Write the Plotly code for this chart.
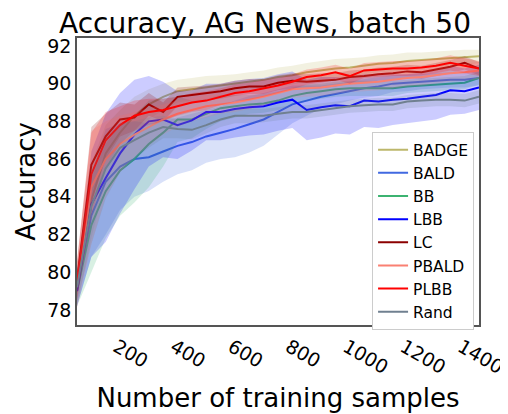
import plotly.graph_objects as go

samples = list(range(0, 1450, 50))

badge = [79.0, 83.8, 86.3, 87.4, 88.3, 88.9, 89.3, 89.6, 89.7, 89.8, 89.9, 90.0, 90.1, 90.2, 90.35,
         90.45, 90.6, 90.7, 90.8, 90.85, 90.95, 91.05, 91.1, 91.2, 91.25, 91.3, 91.35, 91.4, 91.45]
bald = [79.0, 83.0, 84.8, 85.6, 86.0, 86.1, 86.4, 86.7, 86.9, 87.2, 87.4, 87.6, 87.85, 88.1, 88.5,
        88.9, 89.1, 89.3, 89.45, 89.6, 89.75, 89.85, 90.0, 90.05, 90.1, 90.15, 90.2, 90.2, 90.3]
bb = [79.0, 82.5, 84.3, 85.4, 86.0, 86.8, 87.4, 88.1, 88.1, 88.4, 88.7, 88.8, 88.9, 88.95, 89.1,
      89.35, 89.5, 89.6, 89.7, 89.75, 89.75, 89.75, 89.75, 89.85, 89.9, 89.95, 90.0, 90.05, 90.3]
lbb = [79.0, 83.6, 85.0, 86.3, 87.3, 88.0, 88.1, 87.8, 88.05, 88.5, 88.5, 88.65, 88.75, 88.8, 89.0,
       89.15, 88.6, 88.75, 88.85, 88.8, 89.1, 89.05, 89.15, 89.2, 89.3, 89.4, 89.65, 89.6, 89.8]
lc = [79.6, 85.7, 87.2, 88.1, 88.2, 88.9, 88.5, 89.3, 89.4, 89.5, 89.6, 89.75, 89.85, 89.85, 90.05,
      90.15, 90.1, 90.15, 90.2, 90.35, 90.4, 90.5, 90.55, 90.65, 90.6, 90.75, 90.9, 91.1, 90.8]
pbald = [79.3, 84.5, 86.0, 86.8, 87.3, 87.7, 88.1, 88.4, 88.6, 88.8, 88.9, 89.0, 89.15, 89.3, 89.5,
         89.7, 89.75, 89.8, 89.9, 90.0, 90.05, 90.1, 90.2, 90.3, 90.35, 90.45, 90.55, 90.6, 90.7]
plbb = [79.5, 85.2, 87.0, 87.8, 88.3, 88.5, 88.6, 88.8, 89.0, 89.1, 89.3, 89.5, 89.6, 89.75, 89.9,
        90.1, 90.35, 90.45, 90.6, 90.4, 90.7, 90.75, 90.8, 90.8, 90.85, 90.95, 91.1, 90.95, 90.8]
rand = [79.2, 83.5, 85.5, 86.6, 87.0, 87.4, 87.7, 87.6, 87.55, 87.8, 88.1, 88.3, 88.3, 88.3, 88.4,
        88.5, 88.5, 88.6, 88.7, 88.8, 88.85, 88.9, 88.9, 89.05, 89.1, 89.15, 89.15, 89.1, 89.3]

badge_sd = [0.8, 2.0, 1.5, 1.2, 1.0, 0.8, 0.7, 0.6, 0.6, 0.6, 0.55, 0.5, 0.5, 0.5, 0.5,
            0.5, 0.5, 0.5, 0.5, 0.5, 0.45, 0.45, 0.45, 0.45, 0.4, 0.4, 0.4, 0.4, 0.35]
bald_sd = [0.8, 2.2, 2.8, 2.3, 2.0, 1.8, 1.6, 1.5, 1.5, 1.4, 1.4, 1.5, 1.5, 1.4, 1.2,
           1.0, 0.8, 0.6, 0.55, 0.5, 0.5, 0.5, 0.45, 0.45, 0.4, 0.4, 0.4, 0.4, 0.4]
bb_sd = [0.8, 2.5, 2.5, 2.4, 2.3, 2.3, 1.8, 1.2, 1.0, 0.8, 0.7, 0.6, 0.5, 0.5, 0.5,
         0.45, 0.45, 0.4, 0.4, 0.4, 0.4, 0.4, 0.4, 0.35, 0.35, 0.35, 0.35, 0.35, 0.35]
lbb_sd = [0.8, 2.8, 3.4, 3.2, 2.9, 2.4, 2.0, 1.8, 1.6, 1.5, 1.5, 1.5, 1.5, 1.5, 1.5,
          1.5, 1.6, 1.6, 1.5, 1.5, 1.4, 1.4, 1.35, 1.3, 1.3, 1.3, 1.3, 1.2, 1.2]
lc_sd = [1.0, 2.0, 1.2, 0.9, 0.7, 0.6, 0.5, 0.5, 0.45, 0.4, 0.4, 0.4, 0.4, 0.4, 0.4,
         0.4, 0.4, 0.4, 0.35, 0.35, 0.35, 0.35, 0.35, 0.35, 0.35, 0.35, 0.35, 0.35, 0.35]
pbald_sd = [1.2, 3.0, 2.0, 1.5, 1.2, 1.0, 0.8, 0.7, 0.6, 0.6, 0.5, 0.5, 0.5, 0.5, 0.45,
            0.45, 0.45, 0.45, 0.45, 0.45, 0.45, 0.45, 0.45, 0.45, 0.45, 0.45, 0.45, 0.45, 0.45]
plbb_sd = [1.0, 2.2, 1.5, 1.0, 0.8, 0.7, 0.6, 0.5, 0.5, 0.5, 0.45, 0.45, 0.45, 0.45, 0.4,
           0.4, 0.4, 0.4, 0.4, 0.4, 0.4, 0.4, 0.4, 0.4, 0.4, 0.4, 0.4, 0.4, 0.4]
rand_sd = [0.8, 2.0, 1.6, 1.3, 1.0, 0.8, 0.6, 0.5, 0.5, 0.45, 0.4, 0.4, 0.4, 0.35, 0.35,
           0.35, 0.35, 0.35, 0.35, 0.35, 0.35, 0.35, 0.35, 0.35, 0.35, 0.35, 0.35, 0.35, 0.35]

names = ["BADGE", "BALD", "BB", "LBB", "LC", "PBALD", "PLBB", "Rand"]
means = [badge, bald, bb, lbb, lc, pbald, plbb, rand]
sds = [badge_sd, bald_sd, bb_sd, lbb_sd, lc_sd, pbald_sd, plbb_sd, rand_sd]
colors = [(189, 183, 107), (65, 105, 225), (60, 179, 113), (0, 0, 255),
          (139, 0, 0), (250, 128, 114), (255, 0, 0), (112, 128, 144)]

fig = go.Figure()
for name, m, s, c in zip(names, means, sds, colors):
    up = [a + b for a, b in zip(m, s)]
    lo = [a - b for a, b in zip(m, s)]
    fig.add_trace(go.Scatter(
        x=samples + samples[::-1], y=up + lo[::-1], fill="toself",
        fillcolor=f"rgba({c[0]},{c[1]},{c[2]},0.2)", line=dict(width=0),
        mode="lines", hoverinfo="skip", showlegend=False))
    fig.add_trace(go.Scatter(
        x=samples, y=m, mode="lines", name=name,
        line=dict(color=f"rgb({c[0]},{c[1]},{c[2]})", width=2)))

font = "DejaVu Sans, sans-serif"
# the page body has an 8px margin, so the figure is drawn 8px in from the window corner
fig.update_layout(
    width=500, height=406,
    margin=dict(l=69, r=29, t=30, b=89, autoexpand=False),
    paper_bgcolor="white", plot_bgcolor="white",
    font=dict(family=font, color="black"),
    title=dict(text="Accuracy, AG News, batch 50", font=dict(size=28, family=font),
               x=0.514, xanchor="center", xref="container",
               y=1 - 15 / 406, yanchor="middle", yref="container"),
    xaxis=dict(range=[0, 1400], tickvals=[200, 400, 600, 800, 1000, 1200, 1400],
               tickangle=30, tickfont=dict(size=19), ticklabelshift=-18, ticklabelstandoff=2,
               showgrid=False, zeroline=False, showline=True, linecolor="#555555",
               linewidth=1.5, mirror=True, ticks="", automargin=False,
               title=dict(text="Number of training samples", font=dict(size=26), standoff=12)),
    yaxis=dict(range=[77.2, 92.42], tickvals=[78, 80, 82, 84, 86, 88, 90, 92],
               tickfont=dict(size=19), showgrid=False, zeroline=False, showline=True,
               linecolor="#555555", linewidth=1.5, mirror=True, ticks="", automargin=False,
               title=dict(text="Accuracy", font=dict(size=26), standoff=4)),
    legend=dict(x=0.734, y=0.672, xanchor="left", yanchor="top",
                bgcolor="white", bordercolor="#cccccc", borderwidth=1,
                font=dict(size=15.5, family=font), itemwidth=30, tracegroupgap=0),
)
fig.write_html("out.html")
